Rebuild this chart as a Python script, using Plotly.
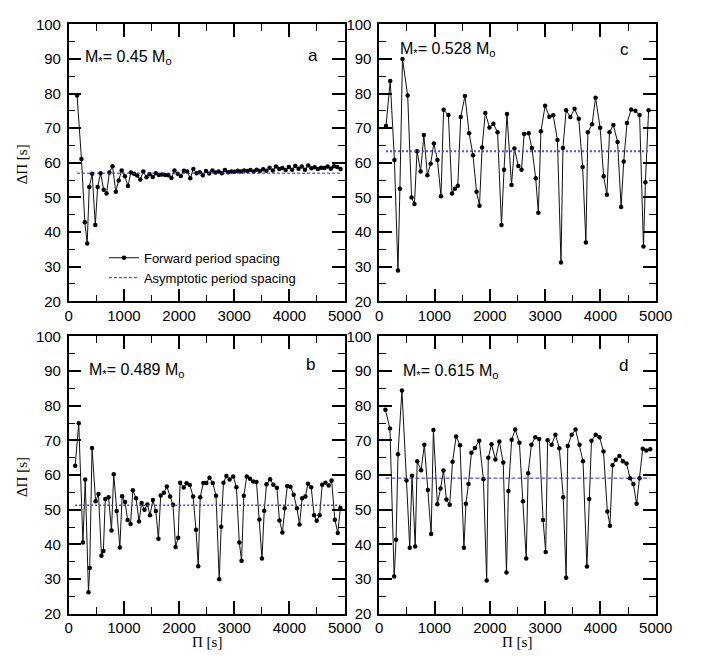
import plotly.graph_objects as go

# ---------------- data ----------------
period_a = [152, 231, 292, 335, 372, 425, 482, 524, 577, 634, 686, 737, 794, 853, 905, 960, 1018, 1074, 1127, 1184,
            1241, 1297, 1352, 1410, 1466, 1523, 1579, 1636, 1692, 1749, 1805, 1862, 1917, 1975, 2032, 2088, 2146, 2203, 2259, 2317,
            2374, 2431, 2488, 2546, 2603, 2660, 2717, 2775, 2832, 2890, 2947, 3005, 3062, 3120, 3177, 3235, 3293, 3351, 3408, 3466,
            3524, 3582, 3640, 3699, 3757, 3816, 3874, 3932, 3990, 4049, 4107, 4166, 4224, 4283, 4341, 4400, 4458, 4517, 4575, 4634,
            4692, 4751, 4809, 4868, 4927]
spacing_a = [79.4, 61.1, 42.8, 36.7, 53.0, 56.8, 42.0, 53.0, 57.0, 52.2, 51.1, 57.2, 59.0, 51.6, 54.9, 57.8, 56.1, 53.3, 57.2, 56.8,
             56.3, 55.2, 57.5, 55.8, 56.7, 55.9, 57.0, 56.5, 56.6, 56.5, 56.4, 55.6, 57.8, 56.8, 56.2, 57.7, 57.5, 55.5, 58.2, 57.0,
             57.3, 56.4, 57.6, 56.9, 57.8, 57.2, 57.5, 57.0, 57.9, 57.3, 57.5, 57.4, 57.7, 57.5, 57.8, 57.6, 57.9, 57.5, 58.0, 57.6,
             58.1, 57.7, 58.6, 57.8, 58.9, 58.2, 58.5, 57.9, 58.8, 58.0, 59.1, 58.3, 58.9, 58.0, 59.2, 58.4, 58.7, 58.2, 58.6, 58.5,
             58.9, 58.3, 59.0, 58.8, 58.2]
asym_a = 57.0

period_b = [117, 182, 258, 299, 358, 381, 423, 487, 540, 593, 628, 663, 722, 775, 816, 869, 927, 968, 1021, 1068,
            1121, 1162, 1221, 1274, 1321, 1373, 1426, 1473, 1526, 1579, 1626, 1667, 1725, 1778, 1837, 1890, 1937, 1984, 2019, 2084,
            2136, 2195, 2254, 2307, 2348, 2383, 2441, 2494, 2552, 2611, 2670, 2728, 2764, 2805, 2858, 2916, 2981, 3040, 3092, 3133,
            3174, 3227, 3286, 3345, 3403, 3456, 3503, 3544, 3585, 3650, 3709, 3773, 3820, 3873, 3914, 3961, 4020, 4078, 4137, 4184,
            4231, 4290, 4337, 4395, 4448, 4495, 4548, 4595, 4653, 4712, 4765, 4824, 4877, 4924]
spacing_b = [62.7, 74.9, 40.5, 58.7, 26.2, 33.2, 67.8, 52.4, 54.5, 36.7, 38.1, 53.1, 53.6, 44.0, 60.2, 49.6, 39.1, 53.9, 52.2, 47.0,
             45.9, 55.6, 53.3, 46.6, 51.9, 50.0, 51.5, 48.4, 52.8, 49.6, 41.6, 54.1, 54.9, 56.7, 53.8, 51.4, 39.2, 41.9, 57.8, 56.4,
             57.6, 57.1, 53.8, 44.2, 33.7, 53.6, 57.7, 57.7, 59.2, 57.7, 54.0, 29.9, 45.1, 57.8, 59.7, 58.7, 59.6, 56.5, 40.5, 35.3,
             54.0, 59.6, 58.9, 58.1, 58.0, 47.2, 35.9, 49.7, 57.3, 58.8, 57.2, 56.3, 46.9, 43.4, 50.4, 56.8, 56.6, 54.3, 50.4, 45.7,
             53.3, 53.8, 57.5, 56.5, 48.4, 46.8, 48.4, 57.2, 57.8, 57.0, 58.4, 47.1, 43.3, 50.5]
asym_b = 51.3

period_c = [123, 199, 275, 339, 374, 421, 515, 585, 637, 684, 749, 807, 871, 930, 988, 1053, 1117, 1164, 1251, 1316,
            1368, 1421, 1474, 1550, 1626, 1696, 1760, 1813, 1860, 1918, 1994, 2064, 2140, 2211, 2257, 2310, 2392, 2444, 2515, 2573,
            2620, 2702, 2760, 2830, 2877, 2924, 3000, 3076, 3146, 3222, 3287, 3322, 3380, 3456, 3532, 3608, 3678, 3737, 3772, 3848,
            3912, 3994, 4058, 4117, 4164, 4234, 4310, 4374, 4421, 4480, 4556, 4632, 4708, 4778, 4813, 4871]
spacing_c = [70.6, 83.6, 60.8, 28.9, 52.5, 90.0, 79.4, 50.0, 48.1, 63.3, 57.5, 68.0, 56.4, 59.7, 65.6, 60.8, 50.3, 75.3, 73.8, 51.1,
             52.5, 53.4, 73.2, 79.3, 68.5, 62.2, 51.6, 47.6, 64.4, 74.4, 70.2, 71.3, 68.8, 42.0, 58.0, 74.1, 53.6, 64.1, 59.1, 58.0,
             68.3, 68.5, 64.3, 55.5, 45.6, 69.1, 76.5, 73.3, 73.7, 66.6, 31.2, 64.3, 75.2, 73.2, 75.6, 72.7, 58.8, 37.0, 68.8, 71.1,
             78.8, 70.1, 56.1, 50.8, 68.8, 70.9, 66.0, 47.2, 60.4, 71.5, 75.4, 75.0, 73.8, 35.8, 54.4, 75.2]
asym_c = 63.3

period_d = [112, 194, 270, 305, 340, 411, 493, 552, 593, 651, 687, 757, 816, 880, 939, 980, 1051, 1109, 1162, 1215,
            1274, 1326, 1391, 1461, 1532, 1567, 1614, 1667, 1731, 1808, 1884, 1943, 1972, 2031, 2101, 2172, 2242, 2301, 2336, 2395,
            2459, 2535, 2599, 2658, 2693, 2752, 2822, 2893, 2963, 3010, 3045, 3116, 3186, 3257, 3327, 3380, 3409, 3480, 3550, 3621,
            3685, 3755, 3797, 3838, 3914, 3984, 4055, 4125, 4172, 4219, 4278, 4343, 4407, 4472, 4536, 4595, 4654, 4706, 4765, 4830,
            4900]
spacing_d = [78.8, 73.4, 30.7, 41.3, 66.0, 84.4, 58.4, 39.0, 59.8, 39.4, 64.0, 61.4, 68.7, 55.7, 43.0, 73.0, 51.6, 56.1, 61.3, 52.9,
             51.4, 63.8, 71.1, 68.6, 39.0, 51.7, 57.4, 66.4, 67.8, 69.9, 58.8, 29.6, 65.0, 68.9, 64.5, 69.7, 63.6, 31.9, 55.4, 70.2,
             73.1, 69.3, 52.4, 35.9, 60.5, 68.7, 70.9, 70.4, 47.0, 37.8, 70.0, 68.7, 71.6, 67.7, 53.6, 30.4, 68.4, 71.6, 73.1, 68.7,
             64.0, 33.6, 53.1, 69.9, 71.6, 70.9, 66.8, 49.5, 45.4, 62.8, 64.4, 65.5, 64.0, 63.3, 59.1, 57.4, 51.7, 59.1, 67.6, 67.1,
             67.4]
asym_d = 59.1

mass_labels = ["M<sub>*</sub>= 0.45 M<sub>o</sub>", "M<sub>*</sub>= 0.528 M<sub>o</sub>",
               "M<sub>*</sub>= 0.489 M<sub>o</sub>", "M<sub>*</sub>= 0.615 M<sub>o</sub>"]
panel_letters = ["a", "c", "b", "d"]
x_ticks = [0, 1000, 2000, 3000, 4000, 5000]
y_ticks = [20, 30, 40, 50, 60, 70, 80, 90, 100]

# ---------------- figure ----------------
W, H = 707, 659
def px(x): return x / W
def py(y): return 1 - y / H

fig = go.Figure()
SANS = "Liberation Sans, Arial, sans-serif"
SERIF = "Liberation Serif, Times New Roman, serif"

panels = [
    ("x", "y", period_a, spacing_a, asym_a, "3px,2px", 1.0, "#2020ff"),
    ("x2", "y2", period_c, spacing_c, asym_c, "2px,2px", 2.0, "#4a4aff"),
    ("x3", "y3", period_b, spacing_b, asym_b, "2px,2px", 1.5, "#3a3aff"),
    ("x4", "y4", period_d, spacing_d, asym_d, "4px,2px", 1.0, "#2020ee"),
]
for i, (xa, ya, per, sp, asy, dash, lw, col) in enumerate(panels):
    fig.add_trace(go.Scatter(x=per, y=sp, xaxis=xa, yaxis=ya, mode="lines+markers",
                             line=dict(color="#111111", width=1),
                             marker=dict(color="black", size=4.5),
                             name="Forward period spacing", showlegend=(i == 0)))
    fig.add_trace(go.Scatter(x=[per[0], per[-1]], y=[asy, asy], xaxis=xa, yaxis=ya, mode="lines",
                             line=dict(color=col, width=lw, dash=dash),
                             name="Asymptotic period spacing", showlegend=(i == 0)))

# plot-area pixel boxes: (left, right, top, bottom)
boxes = [(66.7, 351.0, 15.7, 300.0), (386.7, 671.7, 15.7, 300.0),
         (66.7, 351.0, 336.0, 620.7), (386.7, 671.7, 336.0, 620.7)]

axis_common = dict(showline=True, linecolor="black", linewidth=1.5, mirror="allticks",
                   ticks="inside", ticklen=13, tickwidth=1.5, tickcolor="black",
                   showgrid=False, zeroline=False,
                   tickfont=dict(family=SANS, size=15, color="black"))
layout_axes = {}
for i, (l, r, t, b) in enumerate(boxes):
    sfx = "" if i == 0 else str(i + 1)
    layout_axes["xaxis" + sfx] = dict(axis_common, domain=[px(l), px(r)], range=[0, 5000],
                                      tickvals=x_ticks, anchor="y" + sfx,
                                      minor=dict(ticks="inside", ticklen=7, tickwidth=1.2,
                                                 tickcolor="black", dtick=500, tick0=0))
    layout_axes["yaxis" + sfx] = dict(axis_common, domain=[py(b), py(t)], range=[20, 100],
                                      tickvals=y_ticks, anchor="x" + sfx, ticklabelstandoff=3,
                                      minor=dict(ticks="inside", ticklen=7, tickwidth=1.2,
                                                 tickcolor="black", dtick=5, tick0=0))
fig.update_layout(**layout_axes)

ann = []
mass_pos = [(81, 50), (405.7, 41.5), (86, 371), (409, 372.5)]
letter_pos = [(318.5, 48), (639, 42), (315.5, 365), (638.5, 366)]
for i in range(4):
    ann.append(dict(x=px(mass_pos[i][0]), y=py(mass_pos[i][1]), xref="paper", yref="paper",
                    text=mass_labels[i], showarrow=False, xanchor="left", yanchor="middle",
                    font=dict(family=SANS, size=16, color="black")))
    ann.append(dict(x=px(letter_pos[i][0]), y=py(letter_pos[i][1]), xref="paper", yref="paper",
                    text=panel_letters[i], showarrow=False, xanchor="center", yanchor="middle",
                    font=dict(family=SANS, size=17, color="black")))
for yc in (159, 480):
    ann.append(dict(x=px(18), y=py(yc), xref="paper", yref="paper", text="ΔΠ [s]", textangle=-90,
                    showarrow=False, xanchor="center", yanchor="middle",
                    font=dict(family=SERIF, size=15, color="black")))
for xc in (209, 529):
    ann.append(dict(x=px(xc), y=py(650), xref="paper", yref="paper", text="Π [s]",
                    showarrow=False, xanchor="center", yanchor="middle",
                    font=dict(family=SERIF, size=15, color="black")))

fig.update_layout(
    width=W, height=H, margin=dict(l=0, r=0, t=0, b=0),
    paper_bgcolor="white", plot_bgcolor="white",
    annotations=ann,
    legend=dict(x=px(103), y=py(240), xanchor="left", yanchor="top",
                bgcolor="rgba(0,0,0,0)", font=dict(family=SANS, size=13, color="black"),
                tracegroupgap=2, itemwidth=30),
)

fig.write_html("out.html", config={"displayModeBar": False},
               post_script="document.body.style.margin='0';")
